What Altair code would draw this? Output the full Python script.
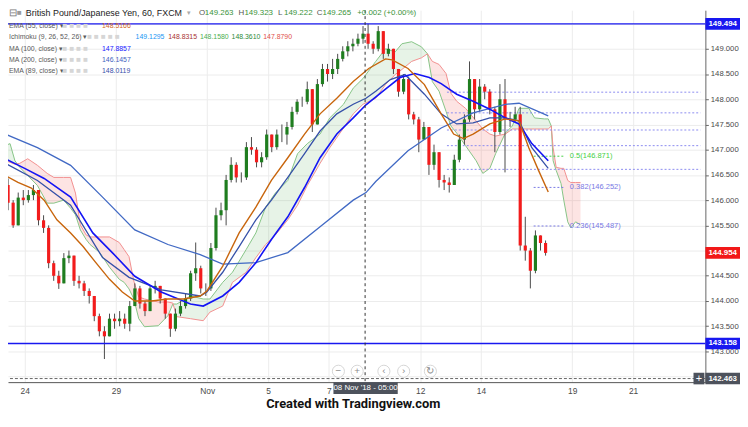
import altair as alt
import pandas as pd

FONT = "Liberation Sans"
PAD = 8  # page margin (reference pixel -> chart pixel)

# ---------------- scales / ticks ----------------
T_DOMAIN = [-0.385, 22.212]          # trading days since 24 Oct 2018 00:00 (weekends removed)
P_DOMAIN = [142.392, 149.765]        # price, JPY per GBP
W, H = 705, 376
tick_days = [0, 3, 6, 8, 10, 13, 15, 18, 20]
tick_labels = ["24", "29", "Nov", "5", "7", "12", "14", "19", "21"]
price_ticks = [142.5, 143.0, 143.5, 144.0, 144.5, 145.0, 145.5, 146.0, 146.5,
               147.0, 147.5, 148.0, 148.5, 149.0, 149.5]
hidden_ticks = [142.5, 145.0, 149.5]   # covered by price tags in the reference

# ---------------- 4-hour candles ----------------
bar_start = -0.545
bar_step = 1 / 6
first_open = 146.30
closes = [145.95, 145.50, 146.05, 146.00, 146.10, 146.20, 145.60, 145.45, 144.75, 144.50,
          144.35, 144.85, 144.90, 144.40, 144.35, 144.20, 144.10, 143.70, 143.40, 143.30,
          143.65, 143.60, 143.65, 143.55, 143.90, 144.25, 143.95, 143.80, 144.25, 144.30,
          144.05, 143.75, 143.45, 143.75, 143.90, 144.05, 144.55, 144.65, 144.25, 144.25,
          145.05, 145.70, 145.80, 146.40, 146.70, 146.45, 146.45, 147.05, 147.00, 146.75,
          146.85, 147.30, 147.05, 147.30, 147.30, 147.45, 147.75, 147.95, 147.95, 148.20,
          147.50, 148.30, 148.60, 148.50, 148.60, 148.80, 148.95, 149.05, 149.10, 149.20,
          149.30, 149.10, 149.00, 149.35, 148.90, 149.00, 148.60, 148.15, 148.40, 147.70,
          147.60, 147.20, 147.45, 146.70, 146.95, 146.40, 146.35, 146.30, 146.80, 147.20,
          147.60, 148.40, 147.80, 148.25, 148.15, 147.80, 147.35, 148.00, 147.60, 147.60,
          147.70, 145.10, 145.00, 144.60, 145.30, 145.15, 144.954]
highs = [146.43, 146.00, 146.15, 146.20, 146.20, 146.30, 146.20, 145.70, 145.50, 144.80,
         144.60, 144.95, 145.00, 144.90, 144.50, 144.40, 144.25, 144.10, 143.75, 143.50,
         143.75, 143.75, 143.80, 143.75, 144.00, 144.35, 144.30, 144.00, 144.30, 144.40,
         144.30, 144.05, 143.75, 143.85, 144.00, 144.15, 144.60, 145.16, 144.70, 144.35,
         145.15, 145.85, 145.95, 146.50, 146.85, 146.75, 146.55, 147.15, 147.25, 147.05,
         146.95, 147.40, 147.30, 147.40, 147.50, 147.55, 147.85, 148.00, 148.05, 148.35,
         148.20, 148.40, 148.70, 148.70, 148.80, 148.90, 149.05, 149.15, 149.20, 149.30,
         149.45, 149.494, 149.15, 149.45, 149.35, 149.10, 149.00, 148.60, 148.50, 148.45,
         147.75, 147.65, 147.55, 147.45, 147.10, 146.95, 146.50, 146.45, 146.90, 147.30,
         147.70, 148.75, 148.40, 148.40, 148.30, 148.20, 147.85, 148.30, 148.40, 147.75,
         147.85, 147.85, 145.67, 145.05, 145.40, 145.30, 145.20]
lows = [145.80, 145.45, 145.50, 145.90, 145.95, 146.00, 145.50, 145.35, 144.65, 144.40,
        144.24, 144.35, 144.75, 144.30, 144.25, 144.10, 143.95, 143.60, 143.30, 142.85,
        143.30, 143.45, 143.50, 143.45, 143.40, 143.90, 143.85, 143.70, 143.80, 144.15,
        143.95, 143.65, 143.29, 143.40, 143.70, 143.85, 144.00, 144.40, 144.15, 144.10,
        144.20, 145.00, 145.60, 145.50, 146.35, 146.35, 146.35, 146.40, 146.90, 146.65,
        146.65, 146.80, 146.95, 147.00, 147.15, 147.10, 147.40, 147.70, 147.85, 147.90,
        147.35, 147.50, 148.25, 148.35, 148.40, 148.50, 148.75, 148.85, 148.95, 149.05,
        149.10, 149.00, 148.90, 148.95, 148.80, 148.85, 148.50, 148.05, 148.10, 147.60,
        147.50, 146.95, 147.20, 146.50, 146.60, 146.25, 146.20, 146.15, 146.30, 146.75,
        147.10, 147.55, 147.60, 147.75, 148.00, 147.70, 146.95, 147.30, 146.55, 147.45,
        147.55, 145.00, 144.80, 144.25, 144.55, 145.00, 144.90]

# ---------------- indicators ----------------
ema55_t = [-0.64, -0.22, 0.22, 0.64, 1.06, 1.51, 1.92, 2.34, 2.79, 3.21, 3.62, 4.17, 4.71, 5.22,
           5.77, 5.99, 6.51, 7.05, 7.60, 8.11, 8.65, 9.20, 9.71, 10.26, 10.80, 11.31, 11.86,
           12.08, 12.60, 13.14, 13.69, 14.10, 14.42, 14.74, 15.29, 15.80, 16.25, 16.57, 16.89, 17.21]
ema55_p = [146.49, 146.35, 146.24, 146.00, 145.61, 145.35, 145.08, 144.76, 144.43, 144.18,
           144.00, 144.00, 144.04, 144.04, 144.10, 144.20, 144.69, 145.35, 145.86, 146.39,
           146.84, 147.31, 147.71, 148.02, 148.35, 148.61, 148.80, 148.78, 148.61, 148.29,
           147.71, 147.31, 147.22, 147.31, 147.51, 147.61, 147.57, 147.04, 146.59, 146.16]
ma100_t = [-0.64, 0.00, 0.64, 1.51, 2.24, 2.88, 3.62, 4.49, 5.45, 5.87, 6.51, 7.05, 7.60, 8.11,
           8.65, 9.20, 9.71, 10.26, 10.80, 11.22, 11.86, 12.34, 12.82, 13.30, 13.69, 14.20,
           14.74, 15.29, 15.80, 16.25, 16.67, 17.21]
ma100_p = [146.82, 146.63, 146.43, 146.06, 145.35, 144.96, 144.49, 144.18, 143.94, 143.90,
           144.10, 144.37, 144.76, 145.22, 145.67, 146.25, 146.84, 147.31, 147.63, 147.89,
           148.20, 148.43, 148.51, 148.43, 148.31, 148.10, 147.96, 147.80, 147.63, 147.51,
           147.12, 146.78]
ema89_t = [-0.64, 0.42, 1.51, 2.56, 3.43, 4.49, 5.77, 5.99, 6.51, 7.05, 7.60, 8.11, 8.65, 9.20,
           9.71, 10.26, 10.80, 11.22, 11.54, 12.02, 12.50, 13.14, 13.69, 14.20, 14.74, 15.29,
           15.80, 16.25, 16.67, 17.21]
ema89_p = [146.73, 146.39, 145.90, 144.86, 144.47, 144.22, 144.10, 144.18, 144.57, 145.08,
           145.61, 146.00, 146.45, 146.92, 147.37, 147.71, 147.90, 148.02, 148.16, 148.39,
           148.49, 148.10, 147.71, 147.51, 147.53, 147.63, 147.63, 147.57, 147.04, 146.63]
ma200_t = [-0.64, 0.42, 1.51, 2.56, 3.62, 4.71, 5.77, 6.51, 7.60, 8.65, 9.71, 10.80, 11.22,
           11.54, 12.60, 13.69, 14.74, 15.80, 16.25, 17.21]
ma200_p = [147.31, 147.04, 146.69, 146.06, 145.41, 145.12, 144.92, 144.73, 144.76, 144.96,
           145.47, 146.00, 146.15, 146.37, 146.98, 147.43, 147.73, 147.90, 147.92, 147.67]

# Ichimoku leading spans (A = green, B = red)
span_t = [-0.64, -0.48, -0.32, -0.16, 0.10, 0.42, 0.74, 0.96, 1.28, 1.51,
          1.67, 1.83, 2.02, 2.15, 2.47, 2.79, 3.11, 3.27, 3.43, 3.59,
          3.75, 3.94, 4.39, 4.71, 4.87, 5.00, 5.45, 5.87, 6.09, 6.51,
          6.83, 7.28, 7.60, 7.92, 8.24, 8.65, 8.97, 9.29, 9.71, 10.03,
          10.48, 10.80, 11.12, 11.54, 11.86, 12.18, 12.40, 12.72, 13.04, 13.24,
          13.40, 13.62, 13.85, 14.01, 14.20, 14.49, 14.84, 15.06, 15.29, 15.48,
          15.80, 16.03, 16.25, 16.57, 16.76, 17.08, 17.21, 17.31, 17.37, 17.47,
          17.63, 17.72, 17.85, 17.95, 18.11, 18.27]
span_a = [147.08, 147.12, 146.78, 146.65, 146.49, 146.29, 145.94, 145.94, 146.00, 145.84,
          145.71, 145.41, 145.22, 145.12, 144.96, 144.67, 144.43, 144.37, 144.24, 144.04,
          143.65, 143.49, 143.51, 143.71, 143.94, 143.94, 144.10, 144.04, 144.04, 144.37,
          144.57, 145.02, 145.35, 145.86, 146.14, 146.39, 146.92, 147.12, 147.31, 147.63,
          147.90, 148.22, 148.41, 148.75, 149.00, 148.94, 149.10, 149.14, 149.04, 148.90,
          148.35, 148.16, 147.76, 147.47, 147.33, 147.08, 146.78, 146.53, 146.63, 146.92,
          147.33, 147.47, 147.82, 147.82, 147.63, 147.61, 147.61, 147.47, 146.78, 146.59,
          146.33, 146.00, 145.57, 145.45, 145.57, 145.51]
span_b = [146.78, 146.75, 146.71, 146.73, 146.82, 146.69, 146.53, 146.45, 146.45, 146.45,
          146.14, 145.51, 145.31, 145.27, 145.27, 145.27, 145.16, 145.02, 144.88, 144.39,
          144.08, 144.04, 143.98, 143.98, 143.96, 143.69, 143.65, 143.61, 143.78, 143.90,
          144.37, 144.57, 144.86, 145.12, 145.31, 145.61, 145.90, 146.29, 146.73, 147.04,
          147.43, 147.71, 147.90, 148.02, 148.29, 148.49, 148.59, 148.75, 148.82, 148.90,
          148.75, 148.69, 148.51, 148.12, 147.96, 147.82, 147.57, 147.41, 147.31, 147.27,
          147.31, 147.41, 147.41, 147.41, 147.41, 147.41, 147.41, 147.47, 147.04, 146.65,
          146.63, 146.63, 146.39, 146.35, 146.35, 146.35]

# ---------------- levels / drawings ----------------
key_levels = [149.494, 143.158]
dotted_prices = [148.14, 147.73, 147.39, 147.08, 146.61]
dotted_start = 13.88
fib_ratio = ["0.5", "0.382", "0.236"]
fib_price = [146.871, 146.252, 145.487]
fib_color = ["#45d045", "#7878e4", "#7878e4"]
fib_t0, fib_t1 = 16.73, 17.72
tag_price = [149.494, 143.158, 144.954, 142.463]
tag_fill = ["#1818f0", "#1818f0", "#f21818", "#4d525c"]
cross_t = 11.19
cross_p = 142.463
cross_label = "08 Nov '18 - 05:00"

# ---------------- header / legend text ----------------
title_text = "British Pound/Japanese Yen, 60, FXCM"
ohlc_keys = ["O", "H", "L", "C"]
ohlc_vals = ["149.263", "149.323", "149.222", "149.265"]
change_text = "+0.002 (+0.00%)"
ind_names = ["EMA (55, close)", "Ichimoku (9, 26, 52, 26)", "MA (100, close)",
             "MA (200, close)", "EMA (89, close)"]
ind_values = [["148.5166"], ["149.1295", "148.8315", "148.1580", "148.3610", "147.8790"],
              ["147.8857"], ["146.1457"], ["148.0119"]]
ind_colors = [["#d2691e"], ["#2196f3", "#a83232", "#4caf50", "#2e8b3a", "#e0504a"],
              ["#2020ff"], ["#3f63c0"], ["#3a4faa"]]
footer_text = "Created with Tradingview.com"

# ---------------- frames ----------------
n = len(closes)
opens = [first_open] + closes[:-1]
candles = pd.DataFrame({
    "t": [bar_start + i * bar_step for i in range(n)],
    "open": opens, "close": closes, "high": highs, "low": lows,
})
candles["col"] = ["#1f7d1f" if c >= o else "#f21c1c" for o, c in zip(opens, closes)]

cloud = pd.DataFrame({"t": span_t, "a": span_a, "b": span_b})
cloud["lo"] = cloud[["a", "b"]].min(axis=1)

label_expr = " : ".join(f"datum.value == {d} ? '{l}'" for d, l in zip(tick_days, tick_labels)) + " : ''"
hide_cond = " || ".join(f"abs(datum.value - {v}) < 0.001" for v in hidden_ticks)
ylabel_expr = f"({hide_cond}) ? '' : format(datum.value, '.3f')"

XS = alt.Scale(domain=T_DOMAIN, nice=False, zero=False)
YS = alt.Scale(domain=P_DOMAIN, nice=False, zero=False)
XA = alt.Axis(values=tick_days, labelExpr=label_expr, title=None, orient="bottom", grid=True,
              gridColor="#ececec", ticks=False, domainColor="#555", labelFontSize=8.5,
              labelColor="#4a4a4a", labelFont=FONT, labelPadding=4, labelFlush=False,
              labelOverlap=False, zindex=0)
YA = alt.Axis(values=price_ticks, labelExpr=ylabel_expr, orient="right", title=None, grid=True,
              gridColor="#ececec", tickSize=3, tickColor="#666", domainColor="#666",
              labelFontSize=7.8, labelColor="#4a4a4a", labelFont=FONT, labelPadding=2,
              labelOverlap=False, labelFlush=False, zindex=0)


def X(f):
    return alt.X(f, type="quantitative", scale=XS, axis=XA)


def Y(f):
    return alt.Y(f, type="quantitative", scale=YS, axis=YA)


ONE = pd.DataFrame({"k": [0]})


def label(s, x, y, color="#444", size=8.5, align="left", weight="normal", font=FONT):
    return alt.Chart(ONE).mark_text(text=s, align=align, baseline="middle", color=color,
                                    fontSize=size, fontWeight=weight, font=font).encode(
        x=alt.value(x - PAD), y=alt.value(y - PAD))


layers = []
# Ichimoku cloud
layers.append(alt.Chart(cloud).mark_area(color="#43a047", opacity=0.13).encode(
    x=X("t"), y=Y("a"), y2=alt.Y2("lo")))
layers.append(alt.Chart(cloud).mark_area(color="#f44336", opacity=0.14).encode(
    x=X("t"), y=Y("b"), y2=alt.Y2("lo")))
layers.append(alt.Chart(cloud).mark_line(color="#86c486", strokeWidth=1).encode(x=X("t"), y=Y("a")))
layers.append(alt.Chart(cloud).mark_line(color="#f29090", strokeWidth=1).encode(x=X("t"), y=Y("b")))

# dotted drawing lines
dots = pd.DataFrame({"p": dotted_prices, "t0": dotted_start, "t1": T_DOMAIN[1]})
layers.append(alt.Chart(dots).mark_rule(color="#8c8cf0", strokeDash=[2, 2], strokeWidth=1).encode(
    x=X("t0"), x2=alt.X2("t1"), y=Y("p")))
fib = pd.DataFrame({"p": fib_price, "t0": fib_t0, "t1": fib_t1, "col": fib_color,
                    "txt": [f"{r}({p:.3f})" for r, p in zip(fib_ratio, fib_price)]})
layers.append(alt.Chart(fib).mark_rule(strokeDash=[2, 2], strokeWidth=1).encode(
    x=X("t0"), x2=alt.X2("t1"), y=Y("p"), color=alt.Color("col:N", scale=None)))
layers.append(alt.Chart(fib).mark_text(align="left", baseline="middle", fontSize=7.6, font=FONT).encode(
    x=alt.value(576 - PAD), y=Y("p"), text="txt:N", color=alt.Color("col:N", scale=None)))

# candles
layers.append(alt.Chart(candles).mark_rule(color="#4a4a4a", strokeWidth=1).encode(
    x=X("t"), y=Y("low"), y2=alt.Y2("high")))
layers.append(alt.Chart(candles).mark_bar(size=3.2).encode(
    x=X("t"), y=Y("open"), y2=alt.Y2("close"), color=alt.Color("col:N", scale=None)))

# moving averages
for ts, ps, col, sw in [(ma200_t, ma200_p, "#4169c4", 1.3), (ema89_t, ema89_p, "#3550a8", 1.3),
                        (ma100_t, ma100_p, "#1414f5", 1.6), (ema55_t, ema55_p, "#c8650c", 1.4)]:
    df = pd.DataFrame({"t": ts, "p": ps})
    layers.append(alt.Chart(df).mark_line(color=col, strokeWidth=sw).encode(x=X("t"), y=Y("p")))

# key horizontal levels
lev = pd.DataFrame({"p": key_levels})
layers.append(alt.Chart(lev).mark_rule(color="#1818f0", strokeWidth=1.5).encode(y=Y("p")))

# crosshair
layers.append(alt.Chart(pd.DataFrame({"t": [cross_t]})).mark_rule(
    color="#333", strokeDash=[3, 3], strokeWidth=1).encode(x=X("t")))
layers.append(alt.Chart(pd.DataFrame({"p": [cross_p]})).mark_rule(
    color="#666", strokeDash=[3, 2], strokeWidth=1).encode(y=Y("p")))

# price tags on the right axis
tags = pd.DataFrame({"p": tag_price, "fill": tag_fill, "txt": [f"{p:.3f}" for p in tag_price]})
tags["lo"] = tags["p"] - 0.115
tags["hi"] = tags["p"] + 0.115
layers.append(alt.Chart(tags).mark_rect().encode(
    x=alt.value(705), x2=alt.value(740), y=Y("hi"), y2=alt.Y2("lo"),
    color=alt.Color("fill:N", scale=None)))
layers.append(alt.Chart(tags).mark_text(align="center", baseline="middle", color="white",
                                        fontSize=8, fontWeight="bold", font=FONT).encode(
    x=alt.value(722.5), y=Y("p"), text="txt:N"))
cp = pd.DataFrame({"lo": [cross_p - 0.115], "hi": [cross_p + 0.115], "p": [cross_p]})
layers.append(alt.Chart(cp).mark_rect(color="#4d525c").encode(
    x=alt.value(693), x2=alt.value(704), y=Y("hi"), y2=alt.Y2("lo")))
layers.append(alt.Chart(cp).mark_text(text="+", color="white", fontSize=11, font=FONT,
                                      baseline="middle", align="center").encode(
    x=alt.value(698.5), y=Y("p")))

# time tooltip on the x axis
layers.append(alt.Chart(ONE).mark_rect(color="#4d525c").encode(
    x=alt.value(337 - PAD), x2=alt.value(402 - PAD), y=alt.value(384 - PAD), y2=alt.value(396 - PAD)))
layers.append(label(cross_label, 369.5, 390, color="white", size=8, align="center"))

# navigation buttons
btn_x = [342, 361, 388, 408, 435]
btn_glyph = ["\u2212", "+", "\u2039", "\u203a", "\u21bb"]
for bx, g in zip(btn_x, btn_glyph):
    layers.append(alt.Chart(ONE).mark_point(shape="circle", size=150, filled=True, color="white",
                                            stroke="#d6d6d6", strokeWidth=1, opacity=1).encode(
        x=alt.value(bx - PAD), y=alt.value(373 - PAD)))
    layers.append(label(g, bx, 373, color="#8a8a8a", size=10, align="center"))

# header
layers.append(label("\u229f", 9, 11, color="#777", size=10))
layers.append(label("\u25a0", 17, 11, color="#9a9a9a", size=8))
layers.append(label(title_text, 26, 11, color="#222", size=9))
layers.append(label("\u25be", 189, 11, color="#aaa", size=7))
ohlc_x = [201, 241, 281, 320]
for k, v, xx in zip(ohlc_keys, ohlc_vals, ohlc_x):
    layers.append(label(k, xx, 11, color="#555", size=8))
    layers.append(label(v, xx + 6, 11, color="#3a943a", size=8))
layers.append(label(change_text, 361, 11, color="#3a943a", size=8))

# indicator legend
row_y = [24, 35, 47, 58, 69]
icon_x = [63, 88, 63, 63, 63]
icon_txt = ["\u25a0 \u25a0 \u25a0 \u25a0", "\u25a0 \u25a0 \u25a0 \u25a0 \u25a0",
            "\u25a0 \u25a0 \u25a0 \u25a0", "\u25a0 \u25a0 \u25a0 \u25a0", "\u25a0 \u25a0 \u25a0 \u25a0"]
val_x = [[103], [137, 170, 202, 234, 266], [103], [103], [103]]
for name, yy, ix, it, vals, cols, vxs in zip(ind_names, row_y, icon_x, icon_txt,
                                             ind_values, ind_colors, val_x):
    layers.append(label(name + " \u25be", 9, yy, color="#5a5a5a", size=7))
    layers.append(label(it, ix, yy, color="#d6d6d6", size=8))
    for v, c, vx in zip(vals, cols, vxs):
        layers.append(label(v, vx, yy, color=c, size=7))

# footer
layers.append(label(footer_text, 357, 406, color="#111", size=13, align="center",
                    weight="bold", font="Roboto"))

chart = alt.layer(*layers).properties(
    width=W, height=H,
    padding={"left": 0, "top": 0, "right": 35, "bottom": 31},
    autosize=alt.AutoSizeParams(type="none"),
    background="white",
).configure_view(strokeWidth=0)

chart.save("out.html", embed_options={"renderer": "svg", "actions": False})
